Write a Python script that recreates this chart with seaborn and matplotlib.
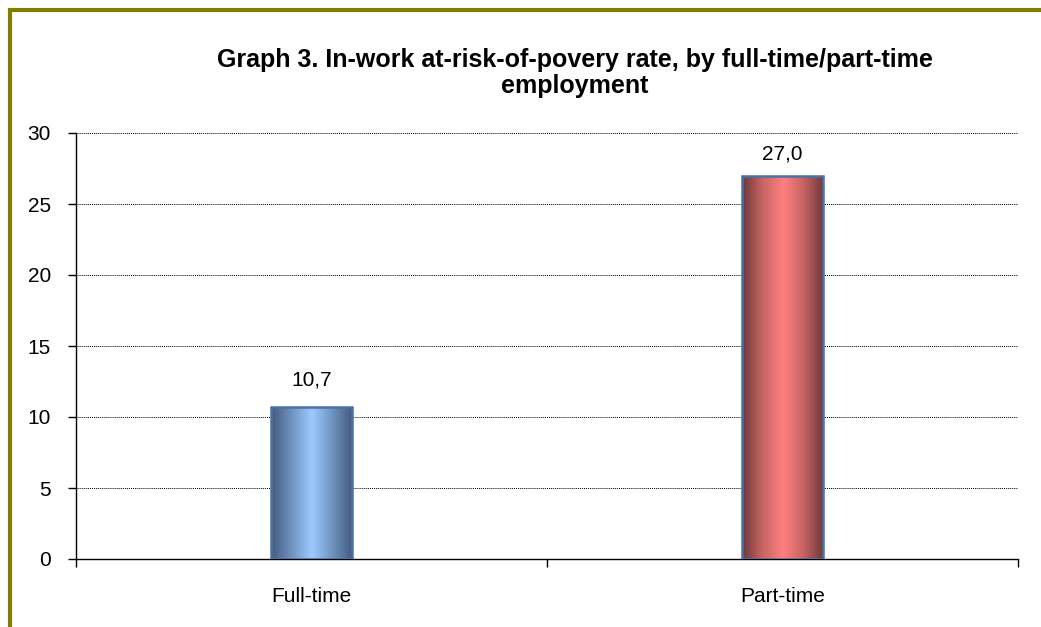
import numpy as np
import pandas as pd
import matplotlib
matplotlib.use("Agg")
import matplotlib.pyplot as plt
import matplotlib.patches as mpatches
from matplotlib.colors import LinearSegmentedColormap
import seaborn as sns

categories = ["Full-time", "Part-time"]
values = [10.7, 27.0]
labels = ["10,7", "27,0"]

sns.set_style("white")
plt.rcParams['font.family'] = ['Liberation Sans', 'DejaVu Sans']
plt.rcParams['text.color'] = 'black'
plt.rcParams['xtick.color'] = 'black'
plt.rcParams['ytick.color'] = 'black'

df = pd.DataFrame({"type": categories, "rate": values})

fig = plt.figure(figsize=(10.41, 6.27), dpi=100)
ax = fig.add_axes([76/1041, 1 - 559/627, 942/1041, 426/627])

sns.barplot(data=df, x="type", y="rate", ax=ax, width=0.172,
            color="white", edgecolor="#4a70a8", linewidth=1.8, zorder=3)

# gradient fill inside each bar
cmaps = [
    LinearSegmentedColormap.from_list("b", ["#435a7c", "#6f93c0", "#9ccbff", "#6f93c0", "#435a7c"]),
    LinearSegmentedColormap.from_list("r", ["#6c3838", "#c86464", "#ff8080", "#c86464", "#6c3838"]),
]
grad = np.linspace(0, 1, 256).reshape(1, -1)
for patch, cm in zip(ax.patches, cmaps):
    x0, y0 = patch.get_x(), patch.get_y()
    w, h = patch.get_width(), patch.get_height()
    im = ax.imshow(grad, cmap=cm, aspect="auto", extent=[x0, x0 + w, y0, y0 + h],
                   zorder=3.5, interpolation="bicubic")
    im.set_clip_path(patch)
    patch.set_facecolor("none")
    patch.set_zorder(4)

for i, (v, lab) in enumerate(zip(values, labels)):
    off = 13 if v < 20 else 9
    ax.annotate(lab, (i, v), xytext=(0, off), textcoords="offset points",
                ha="center", va="bottom", fontsize=15)

ax.set_xlim(-0.5, 1.5)
ax.set_ylim(0, 30)
ax.set_yticks(range(0, 31, 5))
ax.set_xlabel("")
ax.set_ylabel("")
ax.yaxis.grid(True, color="black", linestyle=(0, (1, 1)), linewidth=0.7)
ax.set_axisbelow(True)
ax.tick_params(axis="y", left=True, length=6, width=1, labelsize=15, pad=12)
ax.tick_params(axis="x", which="major", length=0, labelsize=15, pad=20)
ax.set_xticks([-0.5, 0.5, 1.5], minor=True)
ax.tick_params(axis="x", which="minor", bottom=True, length=6, width=1)
for s in ["top", "right"]:
    ax.spines[s].set_visible(False)
for s in ["left", "bottom"]:
    ax.spines[s].set_color("black")
    ax.spines[s].set_linewidth(1)

fig.text(575/1041, 1 - 73/627, "Graph 3. In-work at-risk-of-povery rate, by full-time/part-time\nemployment",
         ha="center", va="center", fontsize=18, fontweight="bold", linespacing=1.15)

border = mpatches.Rectangle((10/1041, -0.2), 1.2, 1.2 - 10/627, transform=fig.transFigure,
                            fill=False, edgecolor="#808000", linewidth=3, clip_on=False)
fig.patches.append(border)

fig.savefig("out.png", dpi=100)
